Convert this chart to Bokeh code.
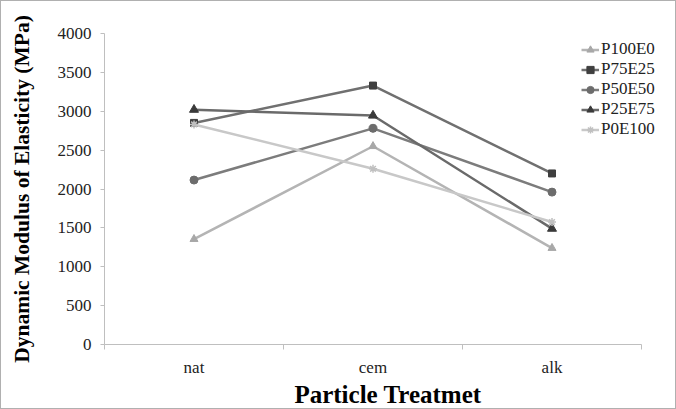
from bokeh.plotting import figure
from bokeh.models import ColumnDataSource, FixedTicker, Legend, LegendItem
from bokeh.embed import file_html
from bokeh.resources import INLINE

categories = ["nat", "cem", "alk"]
series_names = ["P100E0", "P75E25", "P50E50", "P25E75", "P0E100"]
p100e0 = [1355, 2550, 1240]
p75e25 = [2850, 3330, 2200]
p50e50 = [2115, 2780, 1960]
p25e75 = [3020, 2945, 1490]
p0e100 = [2830, 2260, 1575]
y_ticks = [0, 500, 1000, 1500, 2000, 2500, 3000, 3500, 4000]

series_values = [p100e0, p75e25, p50e50, p25e75, p0e100]
line_colors = ["#b4b4b4", "#707070", "#7c7c7c", "#6a6a6a", "#c8c8c8"]
marker_colors = ["#a8a8a8", "#3f3f3f", "#6c6c6c", "#3a3a3a", "#c0c0c0"]
markers = ["triangle", "square", "circle", "triangle", "asterisk"]
marker_sizes = [8, 7, 8, 9, 8]

n = len(categories)
xs = [i + 0.5 for i in range(n)]

# frame spans 103..670 px; the category axis itself spans 103..640 px
x_end = n * (670 - 103) / (640 - 103)

p = figure(width=676, height=409, output_backend="svg", toolbar_location=None,
           x_range=(0, x_end), y_range=(0, 4000),
           min_border_left=103, min_border_right=6, min_border_top=32, min_border_bottom=64)
p.styles = {"border": "1px solid #b0b0b0"}
p.outline_line_color = None
p.xgrid.visible = False
p.ygrid.visible = False

FONT = "'Liberation Serif', serif"

p.xaxis.bounds = (0, n)
p.xaxis.ticker = FixedTicker(ticks=xs, minor_ticks=list(range(n + 1)))
p.xaxis.major_label_overrides = {x: c for x, c in zip(xs, categories)}
p.xaxis.major_tick_line_color = None
p.xaxis.minor_tick_out = 5
p.xaxis.minor_tick_in = 0
p.xaxis.minor_tick_line_color = "#bfbfbf"
p.xaxis.axis_line_color = "#bfbfbf"
p.xaxis.major_label_text_font = FONT
p.xaxis.major_label_text_font_size = "17px"
p.xaxis.major_label_text_color = "#222222"
p.xaxis.major_label_standoff = 7
p.xaxis.axis_label = "Particle Treatmet"
p.xaxis.axis_label_text_font = FONT
p.xaxis.axis_label_text_font_style = "bold"
p.xaxis.axis_label_text_font_size = "25px"
p.xaxis.axis_label_text_color = "#000000"
p.xaxis.axis_label_standoff = 1

p.yaxis.ticker = FixedTicker(ticks=y_ticks)
p.yaxis.minor_tick_line_color = None
p.yaxis.major_tick_out = 4
p.yaxis.major_tick_in = 0
p.yaxis.major_tick_line_color = "#bfbfbf"
p.yaxis.axis_line_color = "#bfbfbf"
p.yaxis.major_label_text_font = FONT
p.yaxis.major_label_text_font_size = "17px"
p.yaxis.major_label_text_color = "#222222"
p.yaxis.major_label_standoff = 9
p.yaxis.axis_label = "Dynamic Modulus of Elasticity (MPa)"
p.yaxis.axis_label_text_font = FONT
p.yaxis.axis_label_text_font_style = "bold"
p.yaxis.axis_label_text_font_size = "21.5px"
p.yaxis.axis_label_text_color = "#000000"
p.yaxis.axis_label_standoff = 21

items = []
for name, vals, lc, mc, mk, ms in zip(series_names, series_values, line_colors,
                                       marker_colors, markers, marker_sizes):
    src = ColumnDataSource(data=dict(x=xs, y=vals))
    r1 = p.line("x", "y", source=src, line_color=lc, line_width=2.5)
    r2 = p.scatter("x", "y", source=src, marker=mk, size=ms, fill_color=mc,
                   line_color=mc, line_width=1.5 if mk == "asterisk" else 1)
    items.append(LegendItem(label=name, renderers=[r1, r2]))

legend = Legend(items=items, location=(477, 205), padding=0, spacing=0,
                label_height=19, glyph_height=19, glyph_width=18, label_standoff=2,
                label_text_font=FONT, label_text_font_size="17px",
                label_text_color="#222222", border_line_color=None,
                background_fill_alpha=0, margin=0)
p.add_layout(legend, "center")

open("out.html", "w").write(file_html(p, INLINE))
